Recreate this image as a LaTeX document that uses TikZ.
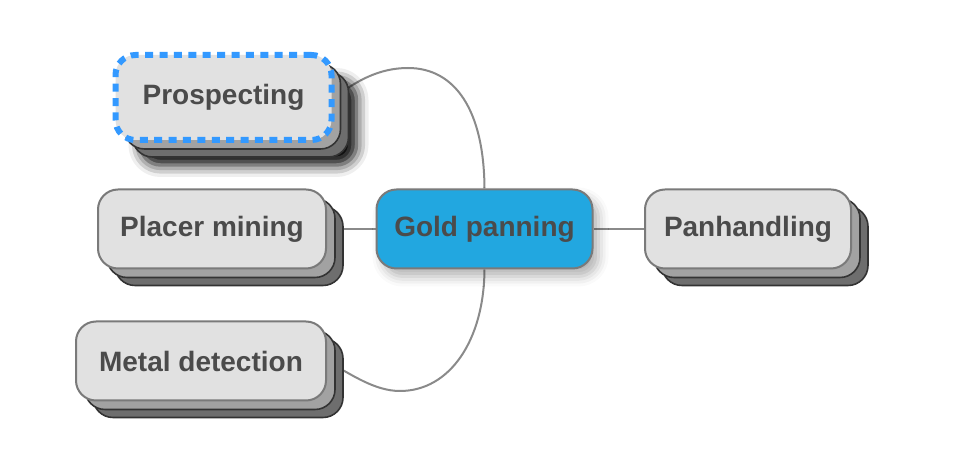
\documentclass[tikz,border=0pt]{standalone}
\usepackage{fontspec}
\setmainfont{Liberation Sans}
\usepackage{tikz}
\usetikzlibrary{shadows, shadows.blur, backgrounds, positioning}
\usepackage{xcolor}
\definecolor{panblue}{HTML}{22A7E0}
\definecolor{boxgrey}{HTML}{E1E1E1}
\definecolor{edgegrey}{HTML}{7A7A7A}
\definecolor{midlayer}{HTML}{A2A2A2}
\definecolor{darklayer}{HTML}{6E6E6E}
\definecolor{layerline}{HTML}{333333}
\definecolor{labelgrey}{HTML}{4B4B4B}
\definecolor{linkgrey}{HTML}{8A8A8A}
\definecolor{dotblue}{HTML}{3399FF}

\tikzset{
  topic/.style={rounded corners=10pt, line width=1pt, minimum height=39.5pt, inner sep=0pt,
    text=labelgrey, font=\bfseries\fontsize{14}{17}\selectfont},
  layers/.style={
    copy shadow={shadow xshift=8.5pt, shadow yshift=-8.5pt, fill=darklayer, draw=layerline, solid, line width=0.8pt},
    copy shadow={shadow xshift=4.5pt, shadow yshift=-4.5pt, fill=midlayer, draw=layerline, solid, line width=0.8pt}},
  leaf/.style={topic, layers, fill=boxgrey, draw=edgegrey},
  link/.style={draw=linkgrey, line width=1pt}
}

\begin{document}
\begin{tikzpicture}[x=0.5pt, y=-0.5pt]
  \useasboundingbox (0,0) rectangle (966,475);

  % central topic
  \node[topic, fill=panblue, draw=edgegrey, minimum width=108pt,
        blur shadow={shadow xshift=3pt, shadow yshift=-4pt, shadow blur radius=5pt, shadow opacity=30}]
        (gold) at (484.5,229) {Gold panning};

  % subtopics
  \node[leaf, minimum width=103pt] (panhandle) at (748,229) {Panhandling};
  \node[leaf, minimum width=114pt] (placer) at (212,229) {Placer mining};
  \node[leaf, minimum width=125pt] (metal) at (201,361) {Metal detection};
  \node[topic, fill=boxgrey, minimum width=108pt, minimum height=42.5pt,
        blur shadow={shadow xshift=12.5pt, shadow yshift=-12.5pt, shadow blur radius=6pt, shadow opacity=100},
        layers, draw=dotblue, line width=3pt, dash pattern=on 4pt off 3.2pt]
        (prospect) at (223.5,97.5) {Prospecting};

  % links
  \begin{scope}[on background layer]
    \draw[link] (gold.east) -- (panhandle.west);
    \draw[link] (gold.west) -- (placer.east);
    \draw[link] (prospect.east) .. controls (355,82) and (378,68) .. (408,68)
      .. controls (455,68) and (484,110) .. (gold.north);
    \draw[link] (metal.east) .. controls (352,375) and (375,391) .. (400,391)
      .. controls (450,391) and (484,340) .. (gold.south);
  \end{scope}
\end{tikzpicture}
\end{document}
